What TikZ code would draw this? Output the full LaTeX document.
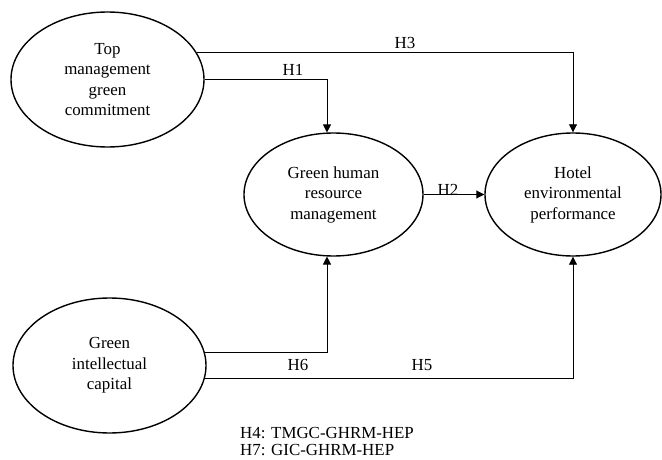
\documentclass[tikz,border=0pt]{standalone}
\usepackage{fontspec}
\setmainfont{Liberation Serif}
\usetikzlibrary{shapes.geometric,arrows.meta}

\tikzset{
  construct/.style={draw, ellipse, line width=1.4pt, inner sep=0pt, align=center,
    font=\fontsize{16.9}{20.5}\selectfont},
  link/.style={line width=.9pt, -{Triangle[length=8pt,width=8pt]}},
  hyp/.style={inner sep=0pt, font=\fontsize{16.9}{20}\selectfont}
}

\begin{document}
\begin{tikzpicture}[x=1pt,y=-1pt]
			\useasboundingbox (0,0) rectangle (662,460);
			% constructs
			\node[construct, minimum width=193pt, minimum height=135pt] (tmgc) at (107.5,79.5) {Top\\management\\green\\commitment};
			\node[construct, minimum width=179pt, minimum height=123pt] (ghrm) at (333.5,194.5) {Green human\\resource\\management};
			\node[construct, minimum width=176pt, minimum height=123pt] (hep) at (573,194.5) {Hotel\\environmental\\performance};
			\node[construct, minimum width=193pt, minimum height=135pt] (gic) at (109.5,365.5) {Green\\intellectual\\capital};
			
			% paths
			\draw[link] (tmgc.17) -| (hep.north);
			\draw[link] (tmgc.east) -| (ghrm.96);
			\draw[link] (ghrm.east) -- (hep.west);
			\draw[link] (gic.8) -| (ghrm.264);
			\draw[link] (gic.-8) -| (hep.south);
			
			\node[hyp] (h1) at (293,70) {H1};
			\node[hyp] (h2) at (448,190) {H2};
			\node[hyp] (h3) at (405,43) {H3};
			\node[hyp] (h5) at (422,365) {H5};
			\node[hyp] (h6) at (298,365) {H6};
			\node[hyp, anchor=west, align=left, font=\fontsize{16.9}{17.3}\selectfont] (notes) at (240,441.5) {H4: TMGC-GHRM-HEP\\H7: GIC-GHRM-HEP};
\end{tikzpicture}
\end{document}
